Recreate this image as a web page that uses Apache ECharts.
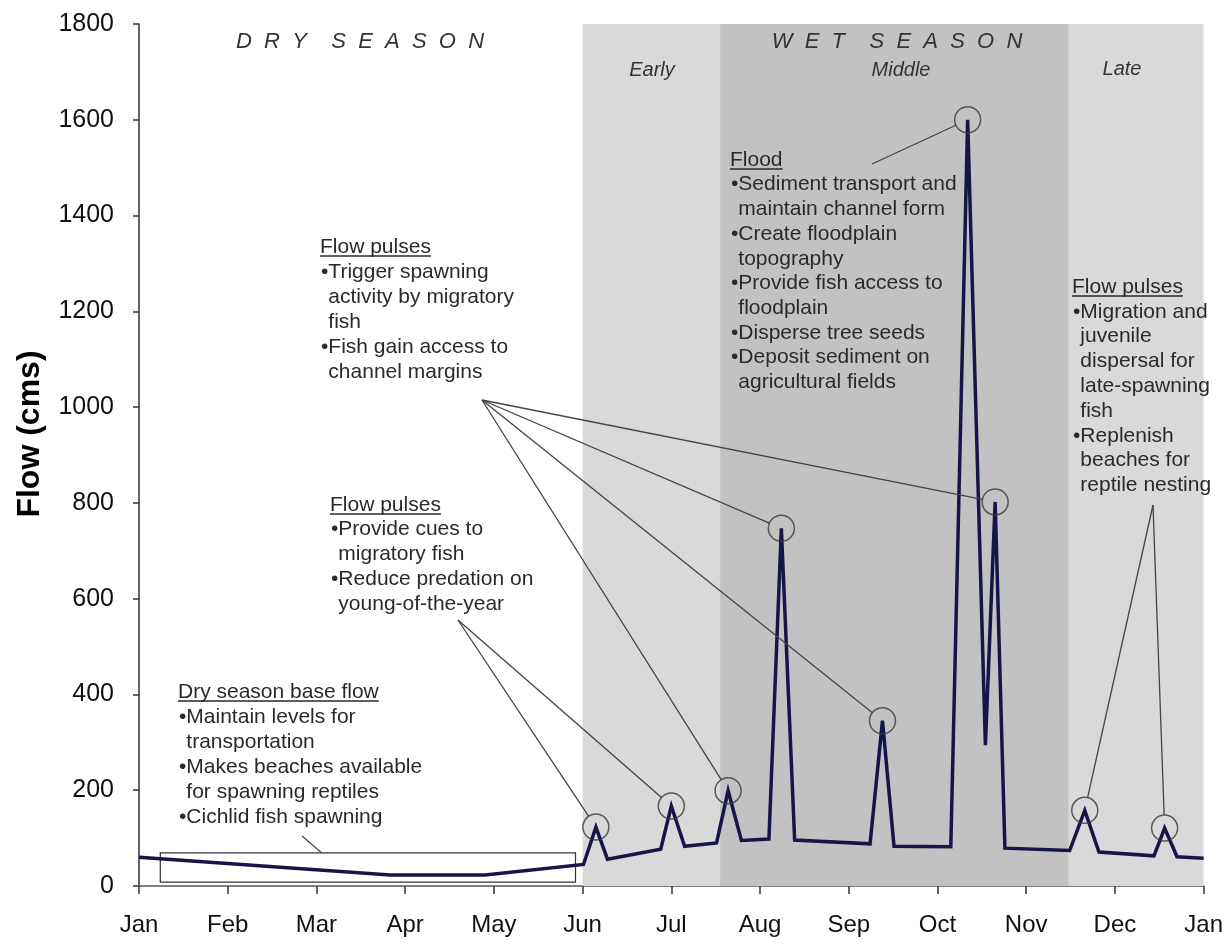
<!DOCTYPE html>
<html><head><meta charset="utf-8">
<script src="https://cdn.jsdelivr.net/npm/echarts@6/dist/echarts.min.js"></script>
<style>html,body{margin:0;padding:0;background:#fff}#c{width:1226px;height:945px}</style>
</head><body><div id="c"></div>
<script>
// ---- data ----
const monthLabels = ['Jan','Feb','Mar','Apr','May','Jun','Jul','Aug','Sep','Oct','Nov','Dec','Jan'];
const flowMonth = [0, 2.83, 3.90, 5.01, 5.15, 5.28, 5.88, 6.00, 6.15, 6.51, 6.64, 6.79, 7.10, 7.24, 7.39, 8.24, 8.38, 8.51, 9.15, 9.34, 9.54, 9.65, 9.76, 10.49, 10.66, 10.82, 11.44, 11.56, 11.70, 12.0];
const flowCms   = [60,   23,   23,   45,   123,  56,   77,   167,  83,   90,   199,  95,   98,   747,  96,   88,   345,  83,   82,   1600, 294,  802,  79,   74,   158,  71,   63,   121,  61,   58];
const circledPeaks = [4, 7, 10, 13, 16, 19, 21, 24, 27];
const bandStart = [5.0, 6.55, 10.48];
const bandEnd   = [6.55, 10.48, 12.0];
const bandNames = ['Early', 'Middle', 'Late'];
const boxMonths = [0.24, 4.92];
const boxFlow   = [8, 69];
const yAxisTitle = 'Flow (cms)';

// ---- chart ----
const FONT = '"Liberation Sans", Arial, sans-serif';
const chart = echarts.init(document.getElementById('c'), null, {renderer: 'canvas'});
const flowData = flowMonth.map((m, i) => [m, flowCms[i]]);
const bandColors = ['#d9d9d9', '#c2c2c2', '#d9d9d9'];
const bandAreas = bandStart.map((s, i) => [
  {xAxis: s, yAxis: 0, itemStyle: {color: bandColors[i]}},
  {xAxis: bandEnd[i], yAxis: 1800}
]);

chart.setOption({
  animation: false,
  backgroundColor: '#ffffff',
  grid: {left: 139, right: 19, top: 24, bottom: 59, containLabel: false},
  xAxis: {
    type: 'value', min: 0, max: 12, interval: 1,
    axisLine: {show: true, onZero: false, lineStyle: {color: '#555', width: 1.5}},
    axisTick: {show: true, length: 8, lineStyle: {color: '#333', width: 1.5}},
    axisLabel: {formatter: v => monthLabels[Math.round(v)], fontSize: 24, color: '#111', margin: 27, fontFamily: FONT},
    splitLine: {show: false}
  },
  yAxis: {
    type: 'value', min: 0, max: 1800, interval: 200,
    axisLine: {show: true, lineStyle: {color: '#333', width: 1.5}},
    axisTick: {show: true, length: 6, lineStyle: {color: '#333', width: 1.5}},
    axisLabel: {formatter: v => String(v), fontSize: 25, color: '#111', margin: 25, fontFamily: FONT},
    splitLine: {show: false}
  },
  series: [
    {
      type: 'line', name: 'Flow', data: flowData, symbol: 'none', z: 3,
      lineStyle: {color: '#15154a', width: 3.5, join: 'miter'},
      emphasis: {disabled: true},
      markArea: {silent: true, z: 1, data: bandAreas}
    },
    {
      type: 'scatter', name: 'Peaks',
      data: circledPeaks.map(i => [flowMonth[i], flowCms[i]]),
      symbol: 'circle', symbolSize: 26, z: 4,
      itemStyle: {color: 'rgba(0,0,0,0)', borderColor: '#3a3a3a', borderWidth: 1.5},
      emphasis: {disabled: true},
      markArea: {silent: true, z: 2, data: [[
        {xAxis: boxMonths[0], yAxis: boxFlow[0], itemStyle: {color: 'rgba(0,0,0,0)', borderColor: '#333', borderWidth: 1.2}},
        {xAxis: boxMonths[1], yAxis: boxFlow[1]}
      ]]}
    }
  ]
});

// ---- annotations ----
const TFONT = '21px "Liberation Sans", Arial, sans-serif';
const ctx = document.createElement('canvas').getContext('2d');
function tw(t, font) { ctx.font = font; return ctx.measureText(t).width; }
const bulletW = tw('•', TFONT);
const TXT = '#2a2a2a';
const blocks = [
  {x: 178, y: 692, lh: 25, lines: ['Dry season base flow', '•Maintain levels for', 'transportation', '•Makes beaches available', 'for spawning reptiles', '•Cichlid fish spawning']},
  {x: 320, y: 247, lh: 25, lines: ['Flow pulses', '•Trigger spawning', 'activity by migratory', 'fish', '•Fish gain access to', 'channel margins']},
  {x: 330, y: 505, lh: 24.7, lines: ['Flow pulses', '•Provide cues to', 'migratory fish', '•Reduce predation on', 'young-of-the-year']},
  {x: 730, y: 160, lh: 24.7, lines: ['Flood', '•Sediment transport and', 'maintain channel form', '•Create floodplain', 'topography', '•Provide fish access to', 'floodplain', '•Disperse tree seeds', '•Deposit sediment on', 'agricultural fields']},
  {x: 1072, y: 287, lh: 24.8, lines: ['Flow pulses', '•Migration and', 'juvenile', 'dispersal for', 'late-spawning', 'fish', '•Replenish', 'beaches for', 'reptile nesting']}
];
const graphics = [];
blocks.forEach(b => {
  b.lines.forEach((t, k) => {
    const y = b.y + k * b.lh;
    let x = b.x;
    if (k > 0) x = t.startsWith('•') ? b.x + 1 : b.x + 1 + bulletW;
    graphics.push({type: 'text', z: 20, style: {text: t, x: x, y: y, fill: TXT, font: TFONT, textAlign: 'left', verticalAlign: 'middle', textVerticalAlign: 'middle'}});
    if (k === 0) {
      const w = tw(t, TFONT);
      graphics.push({type: 'line', z: 20, shape: {x1: x, y1: y + 9, x2: x + w, y2: y + 9}, style: {stroke: TXT, lineWidth: 1.3}});
    }
  });
});
// y axis title
graphics.push({type: 'text', z: 20, x: 30, y: 434, rotation: Math.PI / 2,
  style: {text: yAxisTitle, x: 0, y: 0, fill: '#000', font: 'bold 32px "Liberation Sans", Arial, sans-serif', textAlign: 'center', verticalAlign: 'middle', textVerticalAlign: 'middle'}});
// season titles
const seasonTitles = [
  {t: 'D  R  Y    S  E  A  S  O  N', x: 360, y: 42, f: 'italic 22px "Liberation Sans", Arial, sans-serif'},
  {t: 'W  E  T    S  E  A  S  O  N', x: 897, y: 42, f: 'italic 22px "Liberation Sans", Arial, sans-serif'},
  {t: bandNames[0], x: 652, y: 70, f: 'italic 20px "Liberation Sans", Arial, sans-serif'},
  {t: bandNames[1], x: 901, y: 70, f: 'italic 20px "Liberation Sans", Arial, sans-serif'},
  {t: bandNames[2], x: 1122, y: 69, f: 'italic 20px "Liberation Sans", Arial, sans-serif'}
];
seasonTitles.forEach(s => graphics.push({type: 'text', z: 20, style: {text: s.t, x: s.x, y: s.y, fill: '#333', font: s.f, textAlign: 'center', verticalAlign: 'middle', textVerticalAlign: 'middle'}}));

// leader lines from text to circled peaks
const R = 13;
function edgePoint(start, idx) {
  const c = chart.convertToPixel({gridIndex: 0}, [flowMonth[idx], flowCms[idx]]);
  const dx = start[0] - c[0], dy = start[1] - c[1];
  const d = Math.hypot(dx, dy);
  return [c[0] + dx / d * R, c[1] + dy / d * R];
}
const leaders = [
  {from: [872, 164], to: [19]},
  {from: [482, 400], to: [10, 13, 16, 21]},
  {from: [458, 620], to: [4, 7]},
  {from: [1153, 505], to: [24, 27]}
];
leaders.forEach(L => L.to.forEach(idx => {
  const e = edgePoint(L.from, idx);
  graphics.push({type: 'line', z: 15, shape: {x1: L.from[0], y1: L.from[1], x2: e[0], y2: e[1]}, style: {stroke: '#444', lineWidth: 1.3}});
}));
const boxEnd = chart.convertToPixel({gridIndex: 0}, [2.06, boxFlow[1]]);
graphics.push({type: 'line', z: 15, shape: {x1: 302, y1: 836, x2: boxEnd[0], y2: boxEnd[1]}, style: {stroke: '#444', lineWidth: 1.2}});

chart.setOption({graphic: graphics});
</script>
</body></html>
